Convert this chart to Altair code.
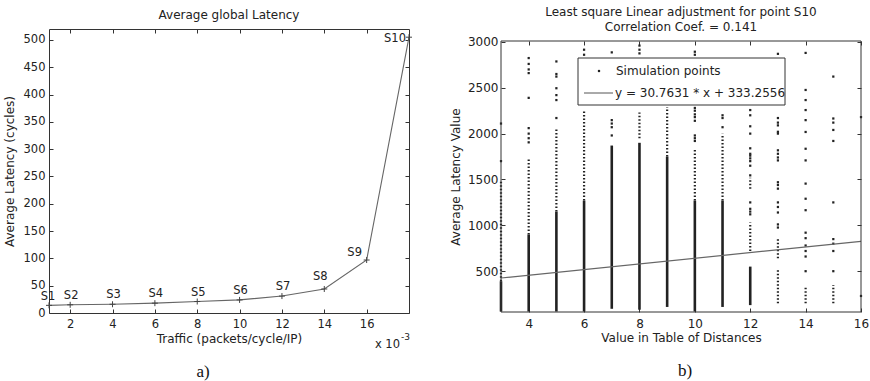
import altair as alt
import pandas as pd

# ---------------- data: panel a ----------------
traffic = [1, 2, 4, 6, 8, 10, 12, 14, 16, 18]
latency = [14, 15, 16, 18, 21, 24, 31, 44, 97, 505]
point_names = ["S1", "S2", "S3", "S4", "S5", "S6", "S7", "S8", "S9", "S10"]
left_x_ticks = [2, 4, 6, 8, 10, 12, 14, 16]
left_y_ticks = [0, 50, 100, 150, 200, 250, 300, 350, 400, 450, 500]

# ---------------- data: panel b ----------------
right_x_ticks = [4, 6, 8, 10, 12, 14, 16]
right_y_ticks = [500, 1000, 1500, 2000, 2500, 3000]

dense_x = [3, 4, 5, 6, 7, 8, 9, 10, 11, 12]
dense_lo = [60, 60, 60, 60, 90, 80, 110, 60, 110, 130]
dense_hi = [390, 900, 1150, 1270, 1870, 1900, 1750, 1270, 1270, 550]

sparse_x = [3, 4, 5, 6, 8, 9, 10, 11, 12, 12, 13, 13, 14, 15]
sparse_lo = [390, 900, 1150, 1270, 1950, 1750, 1270, 1270, 720, 1400, 150, 640, 150, 150]
sparse_hi = [1490, 1720, 2050, 2260, 2230, 2290, 1840, 2000, 1030, 1520, 520, 860, 320, 350]

pts_x3 = [1700, 2110]
pts_x4 = [1905, 1950, 2000, 2060, 2390, 2660, 2700, 2760, 2824]
pts_x5 = [2170, 2366, 2420, 2495, 2622, 2650, 2787]
pts_x6 = [2860, 2915]
pts_x7 = [1980, 2070, 2110, 2147, 2886]
pts_x8 = [2875, 2915, 2960]
pts_x10 = [1920, 1950, 1980, 2140, 2180, 2210, 2250, 2280, 2860, 2893]
pts_x11 = [2070, 2170, 2200]
pts_x12 = [1120, 1150, 1180, 1250, 1545, 1650, 1700, 1730, 1760, 1780, 1840, 2000, 2080, 2200, 2257]
pts_x13 = [976, 1010, 1140, 1200, 1250, 1400, 1440, 1470, 1708, 1740, 1780, 1818, 2000, 2020, 2090, 2120, 2170, 2870]
pts_x14 = [500, 660, 720, 780, 860, 920, 1165, 1290, 1455, 1708, 1835, 2018, 2147, 2257, 2366, 2476, 2880]
pts_x15 = [500, 720, 800, 850, 1250, 1920, 2040, 2120, 2165, 2622]
pts_x16 = [230, 2180]

fit_x = [3, 16]
fit_y = [425.5449, 825.4652]  # y = 30.7631 * x + 333.2556 at the axis ends

left_title = "Average global Latency"
right_title = ["Least square Linear adjustment for point S10", "Correlation Coef. = 0.141"]
legend_labels = ["Simulation points", "y = 30.7631 * x + 333.2556"]

# ---------------- styling ----------------
FONT = "DejaVu Sans"
INK = "#222222"
BOX = "#333333"

left_df = pd.DataFrame({"traffic": traffic, "latency": latency, "name": point_names})

cols = {3: pts_x3, 4: pts_x4, 5: pts_x5, 6: pts_x6, 7: pts_x7, 8: pts_x8, 10: pts_x10,
        11: pts_x11, 12: pts_x12, 13: pts_x13, 14: pts_x14, 15: pts_x15, 16: pts_x16}
pts_df = pd.DataFrame([{"x": k, "y": v} for k, vals in cols.items() for v in vals])
dense_df = pd.DataFrame({"x": dense_x, "lo": dense_lo, "hi": dense_hi})
sparse_df = pd.DataFrame({"x": sparse_x, "lo": sparse_lo, "hi": sparse_hi})
fit_df = pd.DataFrame({"x": fit_x, "y": fit_y})


def ax(orient, values, title=None, labels=True, lp=4, tp=6, fs=11.5, offset=-4):
    kw = dict(orient=orient, values=values, offset=offset, tickSize=4, domain=False, grid=False,
              ticks=True, tickColor=BOX, tickWidth=1, labels=labels, labelFont=FONT,
              labelFontSize=fs, labelColor=INK, labelPadding=lp, labelFlush=False,
              labelOverlap=False, format="d")
    if title is not None:
        kw.update(title=title, titleFont=FONT, titleFontSize=12, titleFontWeight="normal",
                  titleColor=INK, titlePadding=tp)
    else:
        kw.update(title=None)
    return alt.Axis(**kw)


def note(text, x, y, **style):
    return alt.Chart(pd.DataFrame({"t": [text]})).mark_text(**style).encode(
        text="t:N", x=alt.value(x), y=alt.value(y))


txt = dict(font=FONT, fontSize=12, color=INK, baseline="middle")

# ---------------- panel a ----------------
lx = alt.Scale(domain=[1, 18], nice=False, zero=False)
ly = alt.Scale(domain=[0, 520], nice=False, zero=False)

a_line = alt.Chart(left_df).mark_line(color="#666666", strokeWidth=1.1).encode(
    x=alt.X("traffic:Q", scale=lx, axis=ax("bottom", left_x_ticks, "Traffic (packets/cycle/IP)", lp=5, tp=4)),
    y=alt.Y("latency:Q", scale=ly, axis=ax("left", left_y_ticks, "Average Latency (cycles)", lp=4, tp=7)),
)
a_plus = alt.Chart(left_df).mark_point(shape="M-1,0H1M0,-1V1", size=36, filled=False,
                                       color="#444444", strokeWidth=1, opacity=1).encode(
    x=alt.X("traffic:Q", scale=lx, axis=ax("top", left_x_ticks, labels=False)),
    y=alt.Y("latency:Q", scale=ly, axis=ax("right", left_y_ticks, labels=False)),
)
lab_style = dict(font=FONT, fontSize=11.5, color=INK, baseline="middle")


def labels(cond, dx, dy, align="center"):
    return alt.Chart(left_df).transform_filter(cond).mark_text(
        dx=dx, dy=dy, align=align, **lab_style).encode(
        x=alt.X("traffic:Q", scale=lx, axis=None), y=alt.Y("latency:Q", scale=ly, axis=None), text="name:N")


a_l1 = labels("datum.traffic == 1", -1, -8)
a_lmid = labels("datum.traffic > 1 && datum.traffic < 14", 1, -9)
a_l8 = labels("datum.traffic == 14", -4, -12)
a_l9 = labels("datum.traffic == 16", -12, -7)
a_l10 = labels("datum.traffic == 18", -3, 2, "right")

a_title = note(left_title, 180, -14, align="center", **txt)
a_x10 = note("x 10", 351, 316, font=FONT, fontSize=11.5, color=INK, align="right", baseline="middle")
a_exp = note("-3", 352, 308, font=FONT, fontSize=9, color=INK, align="left", baseline="middle")
a_tag = note("a)", 154, 343, font="Liberation Serif", fontSize=17, color="#111111", align="center", baseline="middle")

left = alt.layer(a_line, a_plus, a_l1, a_lmid, a_l8, a_l9, a_l10, a_title, a_x10, a_exp, a_tag).resolve_axis(
    x="independent", y="independent").properties(width=360, height=284)

# ---------------- panel b ----------------
# the plot box of panel b starts 12 px lower than panel a; its y range is placed accordingly
rx = alt.Scale(domain=[3, 16], nice=False, zero=False)
ry = alt.Scale(domain=[55, 3010], nice=False, zero=False, range=[283, 12])

b_dense = alt.Chart(dense_df).mark_rule(color=INK, strokeWidth=2.6).encode(
    x=alt.X("x:Q", scale=rx, axis=ax("bottom", right_x_ticks, "Value in Table of Distances", lp=6, tp=3, fs=12)),
    y=alt.Y("lo:Q", scale=ry, axis=ax("left", right_y_ticks, lp=3, fs=12)),
    y2="hi:Q",
)
b_sparse = alt.Chart(sparse_df).mark_rule(color=INK, strokeWidth=2.2, strokeDash=[1.5, 2]).encode(
    x=alt.X("x:Q", scale=rx, axis=ax("top", right_x_ticks, labels=False, offset=-16)),
    y=alt.Y("lo:Q", scale=ry, axis=ax("right", right_y_ticks, labels=False)),
    y2="hi:Q",
)
b_pts = alt.Chart(pts_df).mark_square(size=5, color=INK, opacity=1).encode(
    x=alt.X("x:Q", scale=rx, axis=None), y=alt.Y("y:Q", scale=ry, axis=None))
b_fit = alt.Chart(fit_df).mark_line(color="#666666", strokeWidth=1.2).encode(
    x=alt.X("x:Q", scale=rx, axis=None), y=alt.Y("y:Q", scale=ry, axis=None))

one = pd.DataFrame({"t": [0]})
b_box = alt.Chart(one).mark_rect(fillOpacity=0, stroke=BOX, strokeWidth=1).encode(
    x=alt.value(0), x2=alt.value(360), y=alt.value(12), y2=alt.value(283))
leg_box = alt.Chart(one).mark_rect(fill="white", stroke=BOX, strokeWidth=1).encode(
    x=alt.value(77), x2=alt.value(284), y=alt.value(29), y2=alt.value(76))
leg_dot = alt.Chart(one).mark_square(size=5, color=INK, opacity=1).encode(
    x=alt.value(98), y=alt.value(42))
leg_line = alt.Chart(one).mark_rule(color="#555555", strokeWidth=1).encode(
    x=alt.value(83), x2=alt.value(112), y=alt.value(64))
leg_t1 = note(legend_labels[0], 115, 42, align="left", **txt)
leg_t2 = note(legend_labels[1], 114, 64, align="left", **txt)
b_ytitle = note("Average Latency Value", -45, 148, angle=270, align="center", **txt)
b_t1 = note(right_title[0], 180, -17, align="center", **txt)
b_t2 = note(right_title[1], 180, -2, align="center", **txt)
b_tag = note("b)", 184, 342, font="Liberation Serif", fontSize=17, color="#111111", align="center", baseline="middle")

right = alt.layer(b_dense, b_sparse, b_pts, b_fit, leg_box, leg_dot, leg_line, leg_t1, leg_t2,
                  b_box, b_ytitle, b_t1, b_t2, b_tag).resolve_axis(
    x="independent", y="independent").properties(
    width=360, height=283, view=alt.ViewBackground(stroke=None))

chart = alt.hconcat(left, right, spacing=35).properties(
    padding={"left": 2, "top": 6, "right": 0, "bottom": 0}, background="white"
).configure_view(stroke=BOX, strokeWidth=1)

chart.save("out.html", embed_options={"renderer": "svg", "actions": False})
